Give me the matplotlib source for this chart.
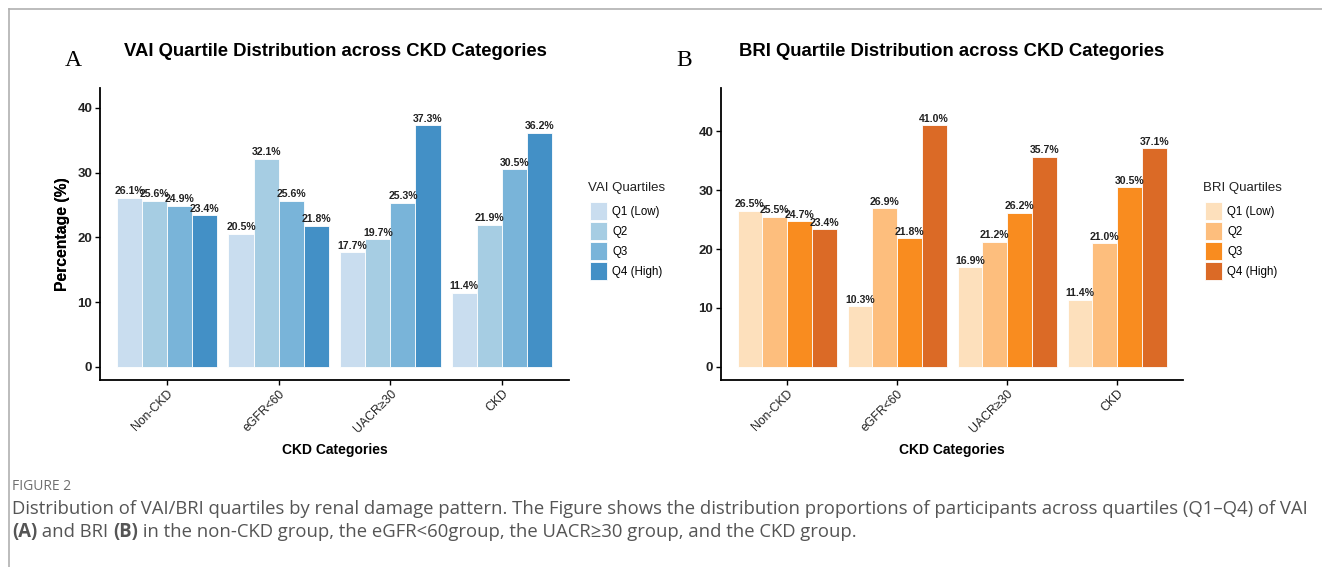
import matplotlib
matplotlib.use("Agg")
import matplotlib.pyplot as plt
import numpy as np
from matplotlib.patches import Patch
from matplotlib.lines import Line2D

categories = ["Non-CKD", "eGFR<60", "UACR≥30", "CKD"]
quartiles = ["Q1 (Low)", "Q2", "Q3", "Q4 (High)"]
vai_q1 = [26.1, 20.5, 17.7, 11.4]
vai_q2 = [25.6, 32.1, 19.7, 21.9]
vai_q3 = [24.9, 25.6, 25.3, 30.5]
vai_q4 = [23.4, 21.8, 37.3, 36.2]
bri_q1 = [26.5, 10.3, 16.9, 11.4]
bri_q2 = [25.5, 26.9, 21.2, 21.0]
bri_q3 = [24.7, 21.8, 26.2, 30.5]
bri_q4 = [23.4, 41.0, 35.7, 37.1]

blues = ["#c9ddef", "#a6cde3", "#79b4d9", "#4390c6"]
oranges = ["#fde0bc", "#fdbe7d", "#f98c1f", "#db6a26"]

W, H = 1322, 567
fig = plt.figure(figsize=(W / 100, H / 100), dpi=100)
plt.rcParams['font.family'] = ['Liberation Sans', 'DejaVu Sans']

def fx(x):
    return x / W

def fy(y):
    return 1 - y / H

narrow = ['Liberation Sans Narrow', 'Liberation Sans', 'DejaVu Sans']

def panel(left_px, right_px, series, colors, title, letter, letter_x, title_cx, legtitle, leg_x):
    ax = fig.add_axes([fx(left_px), fy(380), fx(right_px - left_px), (380 - 88) / H])
    x = np.arange(1, len(categories) + 1)
    bw = 0.225
    allv = [v for s in series for v in s]
    mx = max(allv) * 1.1
    for i, s in enumerate(series):
        pos = x - 0.45 + bw * (i + 0.5)
        ax.bar(pos, s, width=bw, color=colors[i], edgecolor="white", linewidth=0.6)
        for p, v in zip(pos, s):
            ax.text(p, v + 0.25, f"{v:.1f}%", ha="center", va="bottom",
                    fontsize=7.6, fontweight="bold", family=narrow, color="#222222")
    ax.set_xlim(0.4, 4.6)
    ax.set_ylim(-0.05 * mx, mx * 1.05)
    ax.set_yticks([0, 10, 20, 30, 40])
    ax.set_xticks(x)
    ax.set_xticklabels(categories, rotation=45, ha="right", rotation_mode="anchor",
                       fontsize=8.8, family=narrow, color="#222222")
    for lab in ax.get_yticklabels():
        lab.set_fontweight("bold")
        lab.set_fontsize(9.5)
        lab.set_color("#222222")
    ax.tick_params(axis="both", length=3.5, width=1.0, color="black", pad=2)
    for sp in ["top", "right"]:
        ax.spines[sp].set_visible(False)
    for sp in ["left", "bottom"]:
        ax.spines[sp].set_linewidth(1.3)
    ax.set_xlabel("CKD Categories", fontsize=10, fontweight="bold", labelpad=2)
    ax.set_ylabel("Percentage (%)", fontsize=11.3, fontweight="bold", labelpad=2)
    ax.xaxis.set_label_coords(0.5, -(443 - 380) / (380 - 88))
    ax.yaxis.set_label_coords(-(left_px - 70) / (right_px - left_px), 0.5)
    fig.text(fx(title_cx), fy(52), title, ha="center", va="center", fontsize=13.3, fontweight="bold")
    fig.text(fx(letter_x), fy(61), letter, ha="left", va="center", fontsize=17, family=["Liberation Serif"])
    fig.text(fx(leg_x), fy(188), legtitle, ha="left", va="center", fontsize=9.5, color="#222222")
    handles = [Patch(facecolor=c, edgecolor="white", linewidth=0.6) for c in colors]
    fig.legend(handles, quartiles, loc="upper left", bbox_to_anchor=(fx(leg_x + 2), fy(202)),
               frameon=False, fontsize=8.3,
               handlelength=1.45, handleheight=2.0, labelspacing=0.2, handletextpad=0.5,
               borderaxespad=0, borderpad=0)
    return ax

panel(100, 569, [vai_q1, vai_q2, vai_q3, vai_q4], blues,
      "VAI Quartile Distribution across CKD Categories", "A", 65, 335, "VAI Quartiles", 588)
panel(721, 1183, [bri_q1, bri_q2, bri_q3, bri_q4], oranges,
      "BRI Quartile Distribution across CKD Categories", "B", 676, 952, "BRI Quartiles", 1203)

# frame lines
fig.add_artist(Line2D([fx(8.5), 1], [fy(8.5), fy(8.5)], color="#b0b0b0", linewidth=1.2))
fig.add_artist(Line2D([fx(8.5), fx(8.5)], [fy(8.5), 0], color="#b0b0b0", linewidth=1.2))

cap_font = ['Open Sans', 'DejaVu Sans']
fig.text(fx(12), fy(487), "FIGURE 2", ha="left", va="center", fontsize=10, color="#6f6f6f", family=cap_font)
line1 = ("Distribution of VAI/BRI quartiles by renal damage pattern. The Figure shows the distribution "
         "proportions of participants across quartiles (Q1\u2013Q4) of VAI")
fig.text(fx(12), fy(509), line1, ha="left", va="center", fontsize=13.35, color="#555555", family=cap_font)

fig.canvas.draw()
r = fig.canvas.get_renderer()
parts = [("(A)", "bold"), (" and BRI ", "normal"), ("(B)", "bold"),
         (" in the non-CKD group, the eGFR<60group, the UACR\u226530 group, and the CKD group.", "normal")]
xcur = fx(12)
for txt, wt in parts:
    t = fig.text(xcur, fy(532), txt, ha="left", va="center", fontsize=13.35,
                 color="#555555", family=cap_font, fontweight=wt)
    bb = t.get_window_extent(renderer=r)
    xcur += bb.width / W

fig.savefig("out.png", dpi=100)
